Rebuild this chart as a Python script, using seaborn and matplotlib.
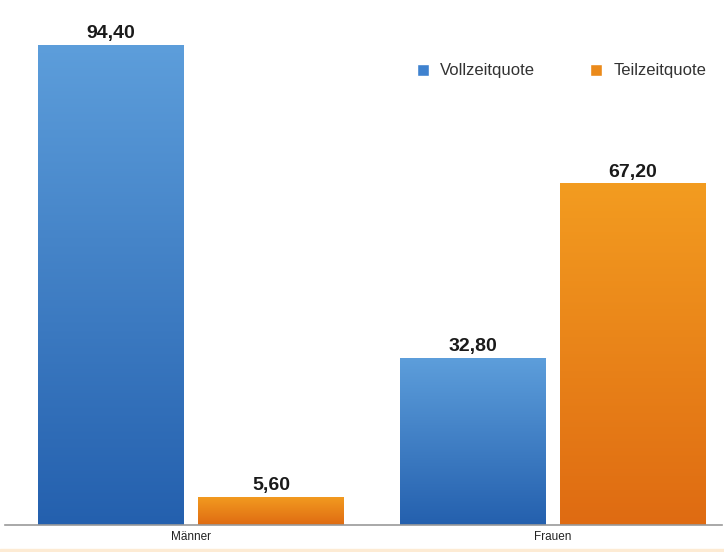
import numpy as np
import pandas as pd
import matplotlib
matplotlib.use("Agg")
import matplotlib.pyplot as plt
import matplotlib.colors as mcolors
from matplotlib.patches import Rectangle
import seaborn as sns

categories = ["Männer", "Frauen"]
series = ["Vollzeitquote", "Teilzeitquote"]
vollzeit = [94.40, 32.80]
teilzeit = [5.60, 67.20]

df = pd.DataFrame({
    "Gruppe": categories * 2,
    "Serie": [series[0]] * 2 + [series[1]] * 2,
    "Wert": vollzeit + teilzeit,
})

sns.set_theme(style="white")
plt.rcParams["font.family"] = ["Liberation Sans", "DejaVu Sans"]

grad = {
    series[0]: ("#5d9edb", "#2460ae"),
    series[1]: ("#f39c20", "#df6b12"),
}
palette = {series[0]: "#3f82cf", series[1]: "#eb8a1a"}

fig = plt.figure(figsize=(7.24, 5.52), dpi=100)
ax = fig.add_axes([5 / 724, 27 / 552, 717 / 724, 525 / 552])

sns.barplot(data=df, x="Gruppe", y="Wert", hue="Serie", order=categories,
            hue_order=series, palette=palette, width=0.884, gap=0.0875,
            saturation=1, ax=ax, legend=True)

XLIM = (-0.514, 1.467)
YLIM = (0, 525 / 5.085)

# gradient fill for each bar
for container, s in zip(ax.containers, series):
    top_c, bot_c = grad[s]
    cmap = mcolors.LinearSegmentedColormap.from_list("g", [bot_c, top_c])
    for bar in container:
        x0, y0 = bar.get_x(), bar.get_y()
        w, h = bar.get_width(), bar.get_height()
        img = np.linspace(1, 0, 256).reshape(-1, 1)
        im = ax.imshow(img, cmap=cmap, vmin=0, vmax=1, aspect="auto",
                       extent=[x0, x0 + w, y0, y0 + h], zorder=bar.get_zorder() + 0.1,
                       interpolation="bilinear")
        im.set_clip_path(bar)
    labels = [f"{v:.2f}".replace(".", ",") for v in container.datavalues]
    ax.bar_label(container, labels=labels, padding=2, fontsize=14,
                 fontweight="bold", color="#1a1a1a")

ax.set_xlim(*XLIM)
ax.set_ylim(*YLIM)
ax.set_aspect("auto")

for sp in ["top", "right", "left"]:
    ax.spines[sp].set_visible(False)
ax.spines["bottom"].set_color("#9a9a9a")
ax.spines["bottom"].set_linewidth(1.2)
ax.set_yticks([])
ax.set_xlabel("")
ax.set_ylabel("")
ax.tick_params(axis="x", length=0, pad=4, labelsize=8.5, labelcolor="#222222")

handles, lbls = ax.get_legend_handles_labels()
ax.legend(handles, lbls, loc="center left",
          bbox_to_anchor=(417 / 724, 1 - 71 / 552), bbox_transform=fig.transFigure,
          ncol=2, frameon=False, fontsize=12, handlelength=0.7,
          handleheight=0.7, columnspacing=3.3, handletextpad=0.7,
          borderpad=0, borderaxespad=0, labelcolor="#333333")

fig.patches.append(Rectangle((0, 0), 1, 3 / 552, transform=fig.transFigure,
                             color="#fdebd4", zorder=0))

fig.savefig("out.png", dpi=100, facecolor="white")
